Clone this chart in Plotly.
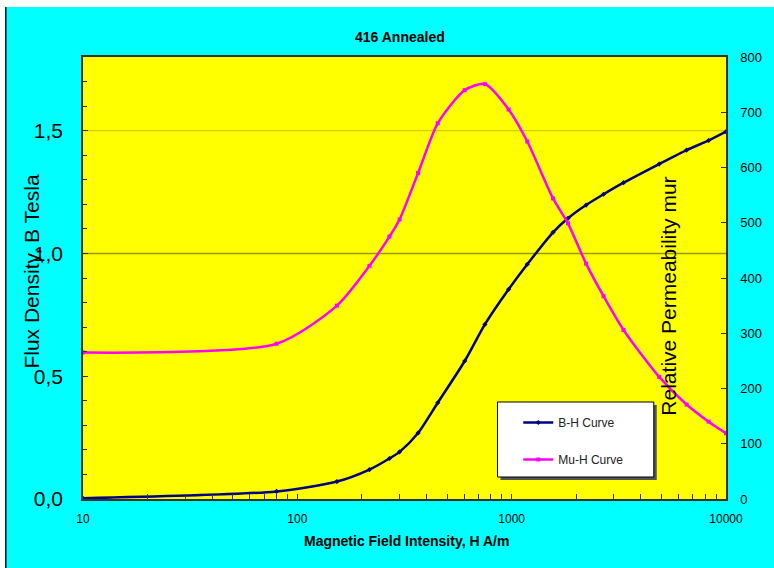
import numpy as np
import plotly.graph_objects as go

# Magnetisation data for annealed 416 stainless steel
H_field = [10, 80, 153, 217, 269, 300, 366, 452, 604, 750, 968, 1183,
           1560, 1831, 2225, 2684, 3326, 4877, 6548, 8298, 10000]
B_tesla = [0.003, 0.031, 0.071, 0.120, 0.165, 0.192, 0.269, 0.392, 0.562,
           0.711, 0.854, 0.956, 1.086, 1.143, 1.197, 1.241, 1.288, 1.364,
           1.421, 1.460, 1.496]
mu_rel = [265, 281, 350, 422, 475, 506, 590, 680, 740, 751, 705, 647,
          544, 499, 426, 367, 306, 221, 171, 140, 119]

x_tickvals = [10, 100, 1000, 10000]
x_ticktext = ["10", "100", "1000", "10000"]
y_tickvals = [0.0, 0.5, 1.0, 1.5]
y_ticktext = ["0,0", "0,5", "1,0", "1,5"]
y2_tickvals = list(range(0, 801, 100))

W, HGT = 774, 568
ML, MR, MT, MB = 83, 41, 57, 69
PW, PH = W - ML - MR, HGT - MT - MB
FONT = "Arial, Liberation Sans, sans-serif"


def px(xp):
    return (xp - ML) / PW


def py(yp):
    return (HGT - MB - yp) / PH


fig = go.Figure()

fig.add_trace(go.Scatter(
    x=H_field, y=B_tesla, name="B-H Curve", legendgroup="bh",
    mode="lines+markers",
    line=dict(color="#000080", width=2.5, shape="spline", smoothing=0.7),
    marker=dict(color="#000080", size=4, symbol="diamond"),
))
fig.add_trace(go.Scatter(
    x=H_field, y=mu_rel, name="Mu-H Curve", legendgroup="mu", yaxis="y2",
    mode="lines+markers",
    line=dict(color="#FF00FF", width=2.5, shape="spline", smoothing=0.7),
    marker=dict(color="#FF00FF", size=4, symbol="square"),
))

# horizontal reference lines
fig.add_hline(y=1.0, line=dict(color="#9a9800", width=1.5), layer="below")
fig.add_hline(y=1.5, line=dict(color="#d2cc00", width=1.2), layer="below")

minor_x = [m * 10 ** d for d in range(1, 4) for m in range(2, 10)]

fig.update_layout(
    width=W, height=HGT,
    margin=dict(l=ML, r=MR, t=MT, b=MB),
    paper_bgcolor="#00FFFF",
    plot_bgcolor="#FFFF00",
    font=dict(family=FONT, color="#000000"),
    showlegend=True,
    legend=dict(
        x=px(523), y=py(408), xanchor="left", yanchor="top",
        bgcolor="rgba(0,0,0,0)", borderwidth=0,
        font=dict(size=12, family=FONT, color="#222222"),
        tracegroupgap=18, traceorder="grouped",
    ),
    xaxis=dict(
        type="log", range=[1, 4],
        tickmode="array", tickvals=x_tickvals, ticktext=x_ticktext,
        ticks="inside", ticklen=5, tickcolor="#333333",
        minor=dict(tickmode="array", tickvals=minor_x, ticks="inside",
                   ticklen=5, tickcolor="#333333", showgrid=False),
        showgrid=False, zeroline=False,
        showline=True, linecolor="#333333", linewidth=1.5, mirror=True,
        tickfont=dict(size=12, family=FONT), ticklabelstandoff=8,
    ),
    yaxis=dict(
        range=[0, 1.8],
        tickmode="array", tickvals=y_tickvals, ticktext=y_ticktext,
        ticks="inside", ticklen=5, tickcolor="#333333",
        minor=dict(tickmode="array", tickvals=list(np.round(np.arange(0, 1.81, 0.1), 2)),
                   ticks="inside", ticklen=4, tickcolor="#333333", showgrid=False),
        showgrid=False, zeroline=False,
        showline=True, linecolor="#333333", linewidth=1.5,
        tickfont=dict(size=21, family=FONT), ticklabelstandoff=14,
    ),
    yaxis2=dict(
        overlaying="y", side="right", range=[0, 800],
        tickmode="array", tickvals=y2_tickvals,
        ticks="inside", ticklen=5, tickcolor="#333333",
        showgrid=False, zeroline=False,
        showline=True, linecolor="#333333", linewidth=1.5,
        tickfont=dict(size=13, family=FONT), ticklabelstandoff=10,
    ),
)

# titles
ann = dict(xref="paper", yref="paper", showarrow=False,
           xanchor="center", yanchor="middle")
fig.add_annotation(text="<b>416 Annealed</b>", x=px(403), y=py(37),
                   font=dict(size=14, family=FONT, color="#000000"), **ann)
fig.add_annotation(text="<b>Magnetic Field Intensity, H A/m</b>", x=px(410), y=py(541),
                   font=dict(size=14, family=FONT, color="#000000"), **ann)
fig.add_annotation(text="Flux Density, B Tesla", x=px(30), y=py(272), textangle=-90,
                   font=dict(size=21, family=FONT, color="#000000"), **ann)
fig.add_annotation(text="Relative Permeability mur", x=px(674), y=py(296), textangle=-90,
                   font=dict(size=21, family=FONT, color="#000000"), **ann)

# outer frame: white edge strips and a dark left border
fig.add_shape(type="rect", xref="paper", yref="paper", layer="above",
              x0=px(-10), x1=px(W + 10), y0=py(7), y1=py(-10),
              line=dict(width=0), fillcolor="#FFFFFF")
fig.add_shape(type="rect", xref="paper", yref="paper", layer="above",
              x0=px(-10), x1=px(4), y0=py(HGT + 10), y1=py(-10),
              line=dict(width=0), fillcolor="#FFFFFF")
fig.add_shape(type="line", xref="paper", yref="paper", layer="above",
              x0=px(5), x1=px(5), y0=py(7), y1=py(HGT + 10),
              line=dict(color="#111111", width=1.5))

# legend box with drop shadow
fig.add_shape(type="rect", xref="paper", yref="paper", layer="above",
              x0=px(505), x1=px(663), y0=py(405), y1=py(480),
              line=dict(width=0), fillcolor="#555555")
fig.add_shape(type="rect", xref="paper", yref="paper", layer="above",
              x0=px(502), x1=px(660), y0=py(402), y1=py(477),
              line=dict(color="#000000", width=1), fillcolor="#FFFFFF")

fig.write_html("out.html")
